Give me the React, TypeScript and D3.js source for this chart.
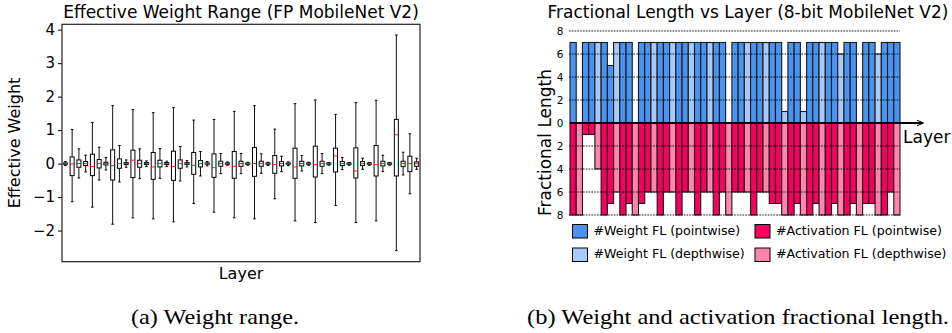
import * as d3 from 'd3';
import React, { useEffect, useRef } from 'react';

// ---------- (a) weight range: one box per layer of FP MobileNet V2 ----------
const layerIds = d3.range(53);

const whiskerLo = [-0.06, -1.14, -0.43, -0.25, -1.3, -0.49, -0.19, -1.81, -0.55, -0.11,
    -1.62, -0.45, -0.09, -1.65, -0.44, -0.09, -1.74, -0.52, -0.1, -1.19,
    -0.37, -0.07, -1.45, -0.3, -0.05, -1.62, -0.3, -0.05, -1.65, -0.29,
    -0.06, -1.05, -0.24, -0.06, -1.71, -0.22, -0.05, -1.76, -0.3, -0.05,
    -1.25, -0.18, -0.05, -1.76, -0.17, -0.05, -1.71, -0.24, -0.05, -2.6,
    -0.34, -0.9, -0.17];
const boxQ1 = [-0.02, -0.36, -0.11, -0.06, -0.36, -0.13, -0.04, -0.49, -0.14, -0.03,
    -0.42, -0.11, -0.03, -0.47, -0.1, -0.03, -0.5, -0.14, -0.03, -0.32,
    -0.1, -0.02, -0.41, -0.08, -0.02, -0.44, -0.08, -0.02, -0.38, -0.08,
    -0.02, -0.29, -0.07, -0.02, -0.44, -0.07, -0.02, -0.4, -0.08, -0.02,
    -0.25, -0.06, -0.02, -0.43, -0.06, -0.02, -0.37, -0.07, -0.02, -0.37,
    -0.09, -0.24, -0.08];
const boxMed = [0, -0.01, 0, 0, -0.09, 0, 0, -0.06, 0, 0,
    0.1, 0, 0, -0.1, 0, 0, -0.09, 0, 0, -0.05,
    0, 0, -0.12, 0, 0, -0.08, 0, 0, 0, 0,
    0, -0.03, 0, 0, -0.1, 0, 0, -0.03, 0, 0,
    0.23, 0, 0, -0.22, 0, 0, -0.03, 0, 0, 0.86,
    0, 0, 0];
const boxQ3 = [0.02, 0.2, 0.11, 0.06, 0.28, 0.12, 0.04, 0.41, 0.14, 0.03,
    0.4, 0.1, 0.03, 0.33, 0.1, 0.03, 0.37, 0.11, 0.03, 0.33,
    0.09, 0.02, 0.29, 0.07, 0.02, 0.36, 0.07, 0.02, 0.48, 0.07,
    0.02, 0.24, 0.06, 0.02, 0.46, 0.07, 0.02, 0.52, 0.07, 0.02,
    0.46, 0.06, 0.02, 0.47, 0.06, 0.02, 0.54, 0.07, 0.02, 1.32,
    0.07, 0.22, 0.05];
const whiskerHi = [0.06, 1.02, 0.44, 0.25, 1.23, 0.49, 0.18, 1.73, 0.54, 0.11,
    1.61, 0.44, 0.08, 1.52, 0.45, 0.07, 1.67, 0.51, 0.09, 1.3,
    0.36, 0.06, 1.32, 0.3, 0.05, 1.56, 0.3, 0.04, 1.73, 0.29,
    0.04, 1.03, 0.22, 0.05, 1.79, 0.24, 0.04, 1.9, 0.3, 0.03,
    1.47, 0.18, 0.03, 1.82, 0.16, 0.03, 1.89, 0.25, 0.03, 3.84,
    0.34, 0.89, 0.16];
const weightTicks = [-2, -1, 0, 1, 2, 3, 4];

// ---------- (b) fractional lengths of the 8-bit model ----------
const weightFL = [7, 0, 7, 7, 7, 7, 5, 7, 7, 7, 0, 7, 7, 7, 7, 7, 7, 7, 7, 7,
    7, 7, 7, 7, 7, 0, 7, 7, 7, 7, 7, 7, 7, 7, 1, 7, 7, 1, 7, 7,
    7, 7, 7, 6, 7, 7, 0, 7, 7, 6, 7, 7, 7];
const actFL = [8, 8, 1, 1, 4, 8, 7, 6, 8, 7, 8, 7, 6, 6, 8, 6, 6, 8, 6, 6,
    8, 6, 6, 8, 6, 8, 6, 6, 6, 8, 6, 6, 7, 7, 8, 8, 7, 8, 8, 7,
    8, 8, 7, 8, 8, 7, 8, 7, 7, 8, 8, 6, 8];
// p = pointwise / regular conv, d = depthwise
const weightKind = ['p', 'dppdppdppdppdpp', 'dppdppdppdppdpp', 'dppdppdppdppdpp', 'dppdpp', 'p'].join('').split('');
const actKind = ['p', 'dppdppdppdppdpp', 'dppdppdppdppdpp', 'dppdppdppdppdpp', 'dppdpp', 'd'].join('').split('');
const flTicks = [-8, -6, -4, -2, 0, 2, 4, 6, 8];
const legendLabels = ['#Weight FL (pointwise)', '#Activation FL (pointwise)',
    '#Weight FL (depthwise)', '#Activation FL (depthwise)'];

const weightColor: Record<string, string> = { p: '#4b93f1', d: '#a7cafb' };
const actColor: Record<string, string> = { p: '#f5025c', d: '#ff85ae' };

const FONT = 'DejaVu Sans, sans-serif';

export default function App() {
    const ref = useRef<SVGSVGElement>(null);

    useEffect(() => {
        const svg = d3.select(ref.current);
        svg.selectAll('*').remove();

        // ================= left panel =================
        const L = { l: 62, r: 420, t: 24.3, b: 261.7 };
        const xL = d3.scaleBand<number>().domain(layerIds).range([L.l, L.r]);
        const yL = d3.scaleLinear().domain([-2.93, 4.16]).range([L.b, L.t]);
        const left = svg.append('g');

        left.append('text')
            .attr('x', (L.l + L.r) / 2).attr('y', 18)
            .attr('text-anchor', 'middle')
            .style('font-family', FONT).style('font-size', '17px')
            .text('Effective Weight Range (FP MobileNet V2)');

        const yAxis = d3.axisLeft(yL).tickValues(weightTicks).tickSize(4).tickPadding(3)
            .tickFormat((d) => d3.format('d')(d as number).replace('-', '\u2212'));
        left.append('g')
            .attr('transform', `translate(${L.l},0)`)
            .call(yAxis)
            .call((g) => g.select('.domain').remove())
            .selectAll('text')
            .style('font-family', FONT).style('font-size', '15px').attr('fill', '#000');

        const bw = 4, cap = 2.6;
        const boxes = left.selectAll('.box').data(layerIds).enter().append('g').attr('class', 'box')
            .attr('transform', (d) => `translate(${xL(d)! + xL.bandwidth() / 2},0)`);
        boxes.append('line').attr('y1', (d) => yL(whiskerLo[d])).attr('y2', (d) => yL(boxQ1[d]))
            .attr('stroke', '#111').attr('stroke-width', 1);
        boxes.append('line').attr('y1', (d) => yL(boxQ3[d])).attr('y2', (d) => yL(whiskerHi[d]))
            .attr('stroke', '#111').attr('stroke-width', 1);
        boxes.append('line').attr('x1', -cap / 2).attr('x2', cap / 2)
            .attr('y1', (d) => yL(whiskerLo[d])).attr('y2', (d) => yL(whiskerLo[d]))
            .attr('stroke', '#000').attr('stroke-width', 1);
        boxes.append('line').attr('x1', -cap / 2).attr('x2', cap / 2)
            .attr('y1', (d) => yL(whiskerHi[d])).attr('y2', (d) => yL(whiskerHi[d]))
            .attr('stroke', '#000').attr('stroke-width', 1);
        boxes.append('rect').attr('x', -bw / 2).attr('width', bw)
            .attr('y', (d) => yL(boxQ3[d])).attr('height', (d) => yL(boxQ1[d]) - yL(boxQ3[d]))
            .attr('fill', 'white').attr('stroke', '#000').attr('stroke-width', 1);
        boxes.append('line').attr('x1', -bw / 2).attr('x2', bw / 2)
            .attr('y1', (d) => yL(boxMed[d])).attr('y2', (d) => yL(boxMed[d]))
            .attr('stroke', '#ff1a1a').attr('stroke-width', 1);

        left.append('rect')
            .attr('x', L.l).attr('y', L.t).attr('width', L.r - L.l).attr('height', L.b - L.t)
            .attr('fill', 'none').attr('stroke', '#222').attr('stroke-width', 1.2);

        left.append('text')
            .attr('transform', `translate(20,${(L.t + L.b) / 2}) rotate(-90)`)
            .attr('text-anchor', 'middle')
            .style('font-family', FONT).style('font-size', '16px')
            .text('Effective Weight');
        left.append('text')
            .attr('x', (L.l + L.r) / 2).attr('y', 279)
            .attr('text-anchor', 'middle')
            .style('font-family', FONT).style('font-size', '16px')
            .text('Layer');

        // ================= right panel =================
        const R = { l: 570, r: 900, t: 31, b: 215 };
        const xR = d3.scaleBand<number>().domain(layerIds).range([R.l, R.r]);
        const yR = d3.scaleLinear().domain([-8, 8]).range([R.b, R.t]);
        const right = svg.append('g');

        right.append('text')
            .attr('x', 748).attr('y', 18)
            .attr('text-anchor', 'middle')
            .style('font-family', FONT).style('font-size', '17px')
            .text('Fractional Length vs Layer (8-bit MobileNet V2)');

        // weight FL goes up, activation FL goes down
        right.selectAll('.wbar').data(layerIds.filter((i) => weightFL[i] > 0)).enter().append('rect')
            .attr('class', 'wbar')
            .attr('x', (d) => xR(d)!).attr('width', xR.bandwidth())
            .attr('y', (d) => yR(weightFL[d])).attr('height', (d) => yR(0) - yR(weightFL[d]))
            .attr('fill', (d) => weightColor[weightKind[d]])
            .attr('stroke', '#1a1a1a').attr('stroke-width', 1.1);
        right.selectAll('.abar').data(layerIds).enter().append('rect')
            .attr('class', 'abar')
            .attr('x', (d) => xR(d)!).attr('width', xR.bandwidth())
            .attr('y', yR(0)).attr('height', (d) => yR(-actFL[d]) - yR(0))
            .attr('fill', (d) => actColor[actKind[d]])
            .attr('stroke', '#1a1a1a').attr('stroke-width', 1.1);

        // dotted grid drawn on top of the bars
        right.selectAll('.grid').data(flTicks.filter((t) => t !== 0)).enter().append('line')
            .attr('x1', R.l - 1).attr('x2', R.r)
            .attr('y1', (d) => yR(d)).attr('y2', (d) => yR(d))
            .attr('stroke', '#000').attr('stroke-width', 0.9).attr('stroke-dasharray', '1.6,1.2');

        right.selectAll('.tick').data(flTicks).enter().append('text')
            .attr('x', 563.5).attr('y', (d) => yR(d)).attr('dy', '0.35em')
            .attr('text-anchor', 'end')
            .style('font-family', FONT).style('font-size', '10.5px')
            .text((d) => Math.abs(d));

        // zero axis with arrow
        right.append('line')
            .attr('x1', R.l).attr('x2', 923).attr('y1', yR(0)).attr('y2', yR(0))
            .attr('stroke', '#000').attr('stroke-width', 2);
        right.append('path')
            .attr('d', `M917,${yR(0) - 2.8}L923.5,${yR(0)}L917,${yR(0) + 2.8}`)
            .attr('fill', 'none').attr('stroke', '#000').attr('stroke-width', 1);
        right.append('text')
            .attr('x', 903).attr('y', 143)
            .style('font-family', FONT).style('font-size', '17px')
            .text('Layer');

        right.append('text')
            .attr('transform', `translate(550.5,142.5) rotate(-90)`)
            .attr('text-anchor', 'middle')
            .style('font-family', FONT).style('font-size', '17px')
            .text('Fractional Length');

        // legend, 2 x 2
        const legendColors = [weightColor.p, actColor.p, weightColor.d, actColor.d];
        const lg = right.selectAll('.lg').data(legendLabels).enter().append('g')
            .attr('transform', (d, i) => `translate(${i % 2 === 0 ? 572.5 : 755},${i < 2 ? 224.5 : 248})`);
        lg.append('rect').attr('width', 15).attr('height', 13.5)
            .attr('fill', (d, i) => legendColors[i]).attr('stroke', '#000').attr('stroke-width', 1);
        lg.append('text').attr('x', 21).attr('y', 10.3)
            .style('font-family', FONT).style('font-size', '12.6px')
            .text((d) => d);

        // ================= captions =================
        svg.append('text')
            .attr('x', 131).attr('y', 324)
            .attr('textLength', 168).attr('lengthAdjust', 'spacingAndGlyphs')
            .style('font-family', 'Liberation Serif, serif').style('font-size', '22px')
            .text('(a) Weight range.');
        svg.append('text')
            .attr('x', 527).attr('y', 324)
            .attr('textLength', 422).attr('lengthAdjust', 'spacingAndGlyphs')
            .style('font-family', 'Liberation Serif, serif').style('font-size', '22px')
            .text('(b) Weight and activation fractional length.');
    }, []);

    return (
        <div className="fig">
            <svg ref={ref} width={952} height={333}
                style={{ position: 'absolute', left: 0, top: 0, background: 'white' }} />
        </div>
    );
}
